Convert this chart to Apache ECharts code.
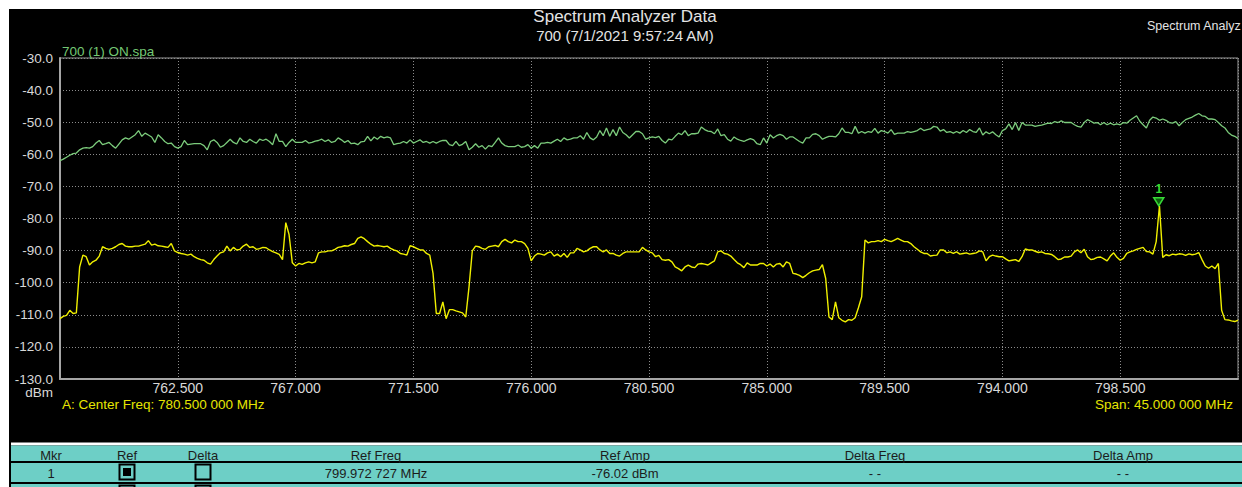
<!DOCTYPE html>
<html>
<head>
<meta charset="utf-8">
<title>Spectrum Analyzer Data</title>
<script src="https://cdn.jsdelivr.net/npm/echarts@6/dist/echarts.min.js"></script>
<style>
  html, body { margin: 0; padding: 0; background: #ffffff; }
  #chart { width: 1242px; height: 487px; }
</style>
</head>
<body>
<div id="chart"></div>
<script>
// Sweep definition (MHz): 758.000 .. 803.000 in 0.125 MHz steps
const sweepStart = 758.0;
const sweepStep = 0.125;

// Trace "700 (1) ON.spa" (dBm per sweep point)
const traceOn = [
  -62.0, -61.5, -60.9, -60.3, -59.8, -59.6, -58.6, -58.1, -57.9, -58.1,
  -57.6, -56.5, -55.7, -57.0, -56.7, -56.3, -57.3, -58.1, -56.8, -55.5,
  -54.9, -55.3, -54.6, -53.9, -52.6, -54.4, -53.4, -54.0, -54.6, -56.3,
  -53.9, -54.9, -56.0, -56.7, -56.5, -57.6, -58.1, -57.6, -55.7, -57.0,
  -56.8, -56.7, -56.7, -56.7, -57.3, -58.6, -56.0, -55.5, -56.3, -57.8,
  -57.3, -56.3, -55.3, -56.3, -56.8, -54.9, -56.0, -56.3, -55.3, -56.0,
  -56.5, -55.3, -55.7, -55.3, -56.0, -57.0, -53.6, -56.0, -56.0, -57.6,
  -56.3, -55.3, -56.3, -56.3, -56.3, -55.7, -56.5, -56.3, -55.9, -55.7,
  -55.3, -56.0, -55.5, -56.3, -56.0, -54.9, -55.5, -56.3, -55.7, -56.7,
  -56.5,
  -57.0, -56.1, -56.0, -54.4, -55.8, -54.6, -55.3, -54.4, -54.9, -54.6,
  -54.9, -57.0, -56.7, -56.5, -56.0, -56.5, -55.5, -56.5, -56.0, -55.5,
  -56.3, -56.0, -56.5, -56.0, -56.5, -56.0, -55.7, -55.7, -57.0, -57.3,
  -56.0, -57.3, -56.9, -56.0, -58.6, -57.8, -56.7, -57.8, -57.3, -58.4,
  -57.3, -57.6, -56.3, -54.9, -56.5, -57.3, -57.6, -57.6, -57.6, -57.1,
  -57.8, -57.6, -57.0, -58.1, -57.3, -58.1, -56.5, -56.5, -56.3, -56.5,
  -55.9, -55.3, -56.0, -54.9, -55.5, -55.3, -54.9, -54.9, -54.2, -55.3,
  -53.2, -54.9, -55.5, -54.6, -52.6, -54.2, -51.8, -54.4, -52.3, -54.2,
  -51.5, -53.2, -53.9, -54.9, -53.9, -52.9, -52.9, -53.6, -55.3, -54.9,
  -54.6, -54.8, -54.4, -55.7, -56.5, -55.3, -55.5, -54.4, -53.4, -53.9,
  -52.6, -54.2, -53.6, -53.6, -53.4, -51.5, -52.3, -52.8, -52.9, -53.6,
  -52.1, -54.2, -53.9, -55.3, -55.9, -54.6, -55.3, -55.7, -56.0, -55.5,
  -55.1, -55.5, -56.7, -57.0, -54.9, -56.5, -53.9, -54.9, -54.2, -53.8,
  -54.2, -55.3, -54.6, -54.6, -55.3, -56.0, -56.5, -54.9, -54.9, -53.8,
  -53.6, -54.2, -55.3, -54.8, -54.4, -54.4, -54.6, -53.6, -51.8, -53.2,
  -53.2, -53.6, -51.3, -53.4, -52.9, -53.4, -52.9, -53.2, -51.9, -53.4,
  -52.6, -52.9, -53.4, -52.3, -53.8, -53.4, -53.4, -53.4, -52.9, -53.2,
  -52.9, -52.6, -51.9, -52.6, -52.3, -52.1, -51.3, -51.5, -52.8, -52.3,
  -53.2, -52.9, -53.4, -52.9, -53.4, -52.6, -53.2, -52.3, -52.9, -53.2,
  -51.8, -54.0, -53.0, -53.6, -53.0, -53.9, -54.6, -52.6, -52.1, -50.5,
  -52.3, -50.1, -52.6, -50.1, -50.9, -50.9, -50.9, -51.3, -51.1, -50.9,
  -50.6, -50.3, -50.4, -49.8, -50.1, -49.6, -50.1, -50.1, -50.1, -50.8,
  -51.3, -51.5, -50.1, -49.2, -49.7, -50.3, -50.1, -50.8, -50.1, -50.8,
  -50.3, -50.8, -50.5, -50.8, -50.1, -50.3, -49.4, -48.7, -48.0, -49.7,
  -50.8, -51.8, -49.4, -48.4, -48.7, -49.4, -49.0, -49.4, -50.1, -50.3,
  -49.8, -51.1, -50.1, -49.2, -48.8, -48.4, -47.8, -47.3, -48.0, -48.2,
  -49.0, -49.0, -49.2, -50.1, -51.1, -51.8, -53.2, -54.0, -54.4, -55.1
];

// Reference trace (dBm per sweep point), marker 1 sits on its peak
const traceRef = [
  -111.2, -110.5, -110.2, -108.6, -109.6, -109.4, -95.1, -91.4, -91.9, -94.5,
  -93.5, -93.0, -91.7, -88.8, -89.3, -89.6, -89.3, -88.8, -88.1, -87.8,
  -88.6, -88.8, -88.8, -88.6, -88.6, -88.3, -88.0, -86.9, -88.3, -88.0,
  -88.5, -88.6, -88.8, -89.0, -87.8, -90.1, -90.6, -90.9, -91.1, -91.4,
  -91.1, -91.9, -92.4, -92.8, -93.0, -93.8, -94.2, -92.8, -91.7, -90.7,
  -90.4, -88.6, -90.1, -89.0, -89.8, -89.6, -88.6, -88.0, -89.0, -88.8,
  -89.6, -89.4, -89.0, -89.1, -89.8, -90.3, -90.7, -91.2, -92.8, -81.3,
  -85.0, -93.8, -94.8, -94.0, -94.3, -93.8, -93.5, -93.8, -93.5, -90.7,
  -90.4, -90.4, -90.1, -90.1, -89.6, -89.0, -88.8, -88.5, -88.6, -88.1,
  -87.8,
  -86.2, -85.7, -86.3, -87.2, -88.0, -88.6, -88.4, -88.6, -88.8, -88.6,
  -89.3, -89.8, -90.1, -90.9, -91.1, -91.4, -88.5, -88.8, -89.3, -89.8,
  -89.8, -90.9, -91.4, -97.1, -109.6, -109.6, -106.0, -111.2, -108.4, -108.4,
  -108.8, -109.1, -109.4, -110.7, -101.3, -90.1, -88.6, -88.8, -89.3, -89.6,
  -88.8, -88.6, -88.4, -88.8, -87.2, -86.5, -87.2, -87.6, -86.7, -87.2,
  -87.2, -87.8, -89.3, -93.2, -91.7, -90.9, -91.1, -91.4, -90.7, -90.4,
  -91.7, -91.1, -91.9, -90.9, -92.1, -90.7, -90.7, -89.3, -89.8, -90.4,
  -90.1, -89.3, -88.8, -88.8, -89.8, -90.4, -89.8, -90.9, -90.9, -91.4,
  -91.7, -90.9, -90.4, -90.4, -90.4, -90.4, -90.4, -89.0, -89.8, -90.4,
  -90.7, -91.9, -91.5, -92.8, -93.0, -92.8, -93.5, -95.1, -95.6, -96.3,
  -95.1, -94.5, -95.1, -95.3, -94.2, -94.0, -94.2, -94.5, -93.8, -93.2,
  -90.4, -90.1, -90.9, -91.1, -91.7, -92.8, -93.8, -94.4, -95.3, -93.8,
  -94.5, -94.5, -94.5, -94.0, -94.0, -94.8, -94.2, -95.1, -94.2, -94.0,
  -95.1, -93.5, -94.0, -97.1, -97.3, -97.7, -98.4, -97.7, -96.9, -96.3,
  -96.1, -95.9, -94.4, -98.7, -110.7, -111.5, -106.0, -110.9, -111.7, -112.2,
  -111.5, -111.7, -110.9, -107.8, -104.4, -86.7, -87.6, -87.2, -87.2, -86.9,
  -87.2, -86.5, -86.9, -87.2, -86.7, -86.2, -86.7, -87.2, -87.2, -87.8,
  -88.8, -89.6, -90.4, -90.9, -90.9, -91.7, -91.5, -91.4, -89.8, -89.8,
  -90.7, -90.4, -90.9, -90.4, -91.1, -90.9, -90.7, -91.1, -90.9, -90.7,
  -90.1, -90.4, -93.2, -91.9, -91.4, -91.7, -91.9, -91.9, -92.6, -93.2,
  -93.0, -92.8, -93.4, -91.9, -89.5, -89.8, -89.8, -90.2, -90.6, -90.4,
  -90.9, -91.0, -91.2, -91.9, -92.8, -92.6, -92.0, -92.0, -91.7, -90.4,
  -89.8, -90.7, -89.6, -91.9, -92.8, -92.6, -92.1, -92.0, -92.6, -93.2,
  -91.7, -90.7, -92.1, -93.0, -92.4, -90.9, -90.4, -90.1, -89.6, -89.3,
  -89.0, -90.3, -90.4, -91.1, -87.2, -76.02, -92.1, -91.3, -91.6, -91.1,
  -91.3, -91.0, -91.1, -91.5, -91.0, -91.3, -91.1, -90.6, -92.8, -94.8,
  -95.5, -94.8, -95.6, -94.0, -108.6, -111.5, -111.6, -111.9, -112.1, -111.7
];

// Marker 1
const markerLabel = '1';
const markerFreq = 799.972727;
const markerAmp = -76.02;

// Axis settings
const freqMin = 758.0, freqMax = 803.0, freqTick = 4.5;
const ampMin = -130, ampMax = -30, ampTick = 10;

// Header / footer texts
const chartTitle = 'Spectrum Analyzer Data';
const subtitle = '700 (7/1/2021 9:57:24 AM)';
const cornerTitle = 'Spectrum Analyz';
const traceName = '700 (1) ON.spa';
const centerText = 'A: Center Freq: 780.500 000 MHz';
const spanText = 'Span: 45.000 000 MHz';
const unitText = 'dBm';

// Marker table
const tableHeaders = ['Mkr', 'Ref', 'Delta', 'Ref Freq', 'Ref Amp', 'Delta Freq', 'Delta Amp'];
const tableRow = ['1', true, false, '799.972 727 MHz', '-76.02 dBm', '- -', '- -'];

// ---- build series ----
const freqs = traceOn.map((_, i) => sweepStart + i * sweepStep);
const onData = traceOn.map((v, i) => [freqs[i], v]);
const refData = traceRef.map((v, i) => [freqs[i], v]);

const FONT = '"Liberation Sans", Arial, sans-serif';
const colX = [51, 127, 203, 376, 625, 875, 1123];

const g = [];
// panel background
g.push({ type: 'rect', z: -20, shape: { x: 9, y: 9, width: 1233, height: 478 }, style: { fill: '#000000' } });
// titles
g.push({ type: 'text', x: 625, y: 16, style: { text: chartTitle, fill: '#e4e4e4', font: '17px ' + FONT, align: 'center', verticalAlign: 'middle' } });
g.push({ type: 'text', x: 625, y: 35, style: { text: subtitle, fill: '#e4e4e4', font: '15px ' + FONT, align: 'center', verticalAlign: 'middle' } });
g.push({ type: 'text', x: 1147, y: 26, style: { text: cornerTitle, fill: '#e4e4e4', font: '12.5px ' + FONT, align: 'left', verticalAlign: 'middle' } });
g.push({ type: 'text', x: 62, y: 51, style: { text: traceName, fill: '#74c874', font: '13.5px ' + FONT, align: 'left', verticalAlign: 'middle' } });
g.push({ type: 'text', x: 53, y: 392, style: { text: unitText, fill: '#d8d8d8', font: '13.5px ' + FONT, align: 'right', verticalAlign: 'middle' } });
g.push({ type: 'text', x: 62, y: 404, style: { text: centerText, fill: '#e6e600', font: '13.5px ' + FONT, align: 'left', verticalAlign: 'middle' } });
g.push({ type: 'text', x: 1233, y: 404, style: { text: spanText, fill: '#e6e600', font: '13.5px ' + FONT, align: 'right', verticalAlign: 'middle' } });

// marker table
g.push({ type: 'rect', z: -15, shape: { x: 11, y: 442.5, width: 1231, height: 3 }, style: { fill: '#ffffff' } });
g.push({ type: 'rect', z: -15, shape: { x: 11, y: 445.5, width: 1231, height: 42 }, style: { fill: '#6dcfc6' } });
g.push({ type: 'rect', z: -14, shape: { x: 11, y: 461, width: 1231, height: 2 }, style: { fill: '#000000' } });
g.push({ type: 'rect', z: -14, shape: { x: 11, y: 482, width: 1231, height: 2 }, style: { fill: '#000000' } });
tableHeaders.forEach((h, i) => {
  g.push({ type: 'text', x: colX[i], y: 455, style: { text: h, fill: '#1c1c1c', font: '13px ' + FONT, align: 'center', verticalAlign: 'middle' } });
});
function checkbox(cx, top, checked) {
  g.push({ type: 'rect', shape: { x: cx - 7.5, y: top + 1, width: 15, height: 15 }, style: { fill: 'none', stroke: '#000000', lineWidth: 2 } });
  if (checked) {
    g.push({ type: 'rect', shape: { x: cx - 4, y: top + 4.5, width: 8, height: 8 }, style: { fill: '#000000' } });
  }
}
tableRow.forEach((c, i) => {
  if (typeof c === 'boolean') {
    checkbox(colX[i], 463.5, c);
  } else {
    g.push({ type: 'text', x: colX[i], y: 473, style: { text: c, fill: '#1c1c1c', font: '13px ' + FONT, align: 'center', verticalAlign: 'middle' } });
  }
});
// next (empty) marker row, cut off by the bottom edge
checkbox(colX[1], 484.5, false);
checkbox(colX[2], 484.5, false);

const chart = echarts.init(document.getElementById('chart'), null, { renderer: 'svg' });
chart.setOption({
  backgroundColor: '#ffffff',
  animation: false,
  graphic: { elements: g },
  grid: {
    left: 60, top: 58, width: 1178, height: 321,
    show: true, borderColor: '#9a9a9a', borderWidth: 1, backgroundColor: 'transparent'
  },
  xAxis: {
    type: 'value', min: freqMin, max: freqMax, interval: freqTick,
    axisLine: { show: true, lineStyle: { color: '#a6a6a6', width: 2 } },
    axisTick: { show: false },
    axisLabel: {
      showMinLabel: false, showMaxLabel: false, margin: 2,
      color: '#d8d8d8', fontFamily: FONT, fontSize: 14,
      formatter: v => v.toFixed(3)
    },
    splitLine: { show: true, lineStyle: { color: '#8c8c8c', type: [1, 2], width: 1 } }
  },
  yAxis: {
    type: 'value', min: ampMin, max: ampMax, interval: ampTick,
    axisLine: { show: true, lineStyle: { color: '#a6a6a6', width: 2 } },
    axisTick: { show: false },
    axisLabel: {
      margin: 7, color: '#d8d8d8', fontFamily: FONT, fontSize: 13.5,
      formatter: v => v.toFixed(1)
    },
    splitLine: { show: true, lineStyle: { color: '#8c8c8c', type: [1, 2], width: 1 } }
  },
  series: [
    {
      name: traceName, type: 'line', data: onData, symbol: 'none',
      lineStyle: { color: '#7ccc7c', width: 1.3 }, z: 3
    },
    {
      name: 'Ref', type: 'line', data: refData, symbol: 'none',
      lineStyle: { color: '#f0f000', width: 1.4 }, z: 4,
      markPoint: {
        silent: true,
        data: [{
          coord: [markerFreq, markerAmp],
          symbol: 'triangle', symbolRotate: 180, symbolSize: [10, 8], symbolOffset: [0, -4],
          itemStyle: { color: '#0d5e0d', borderColor: '#38d838', borderWidth: 1.5 },
          label: {
            show: true, formatter: markerLabel, position: 'top', distance: 2,
            color: '#33dd33', fontWeight: 'bold', fontSize: 12, fontFamily: FONT
          }
        }]
      }
    }
  ]
});
</script>
</body>
</html>
